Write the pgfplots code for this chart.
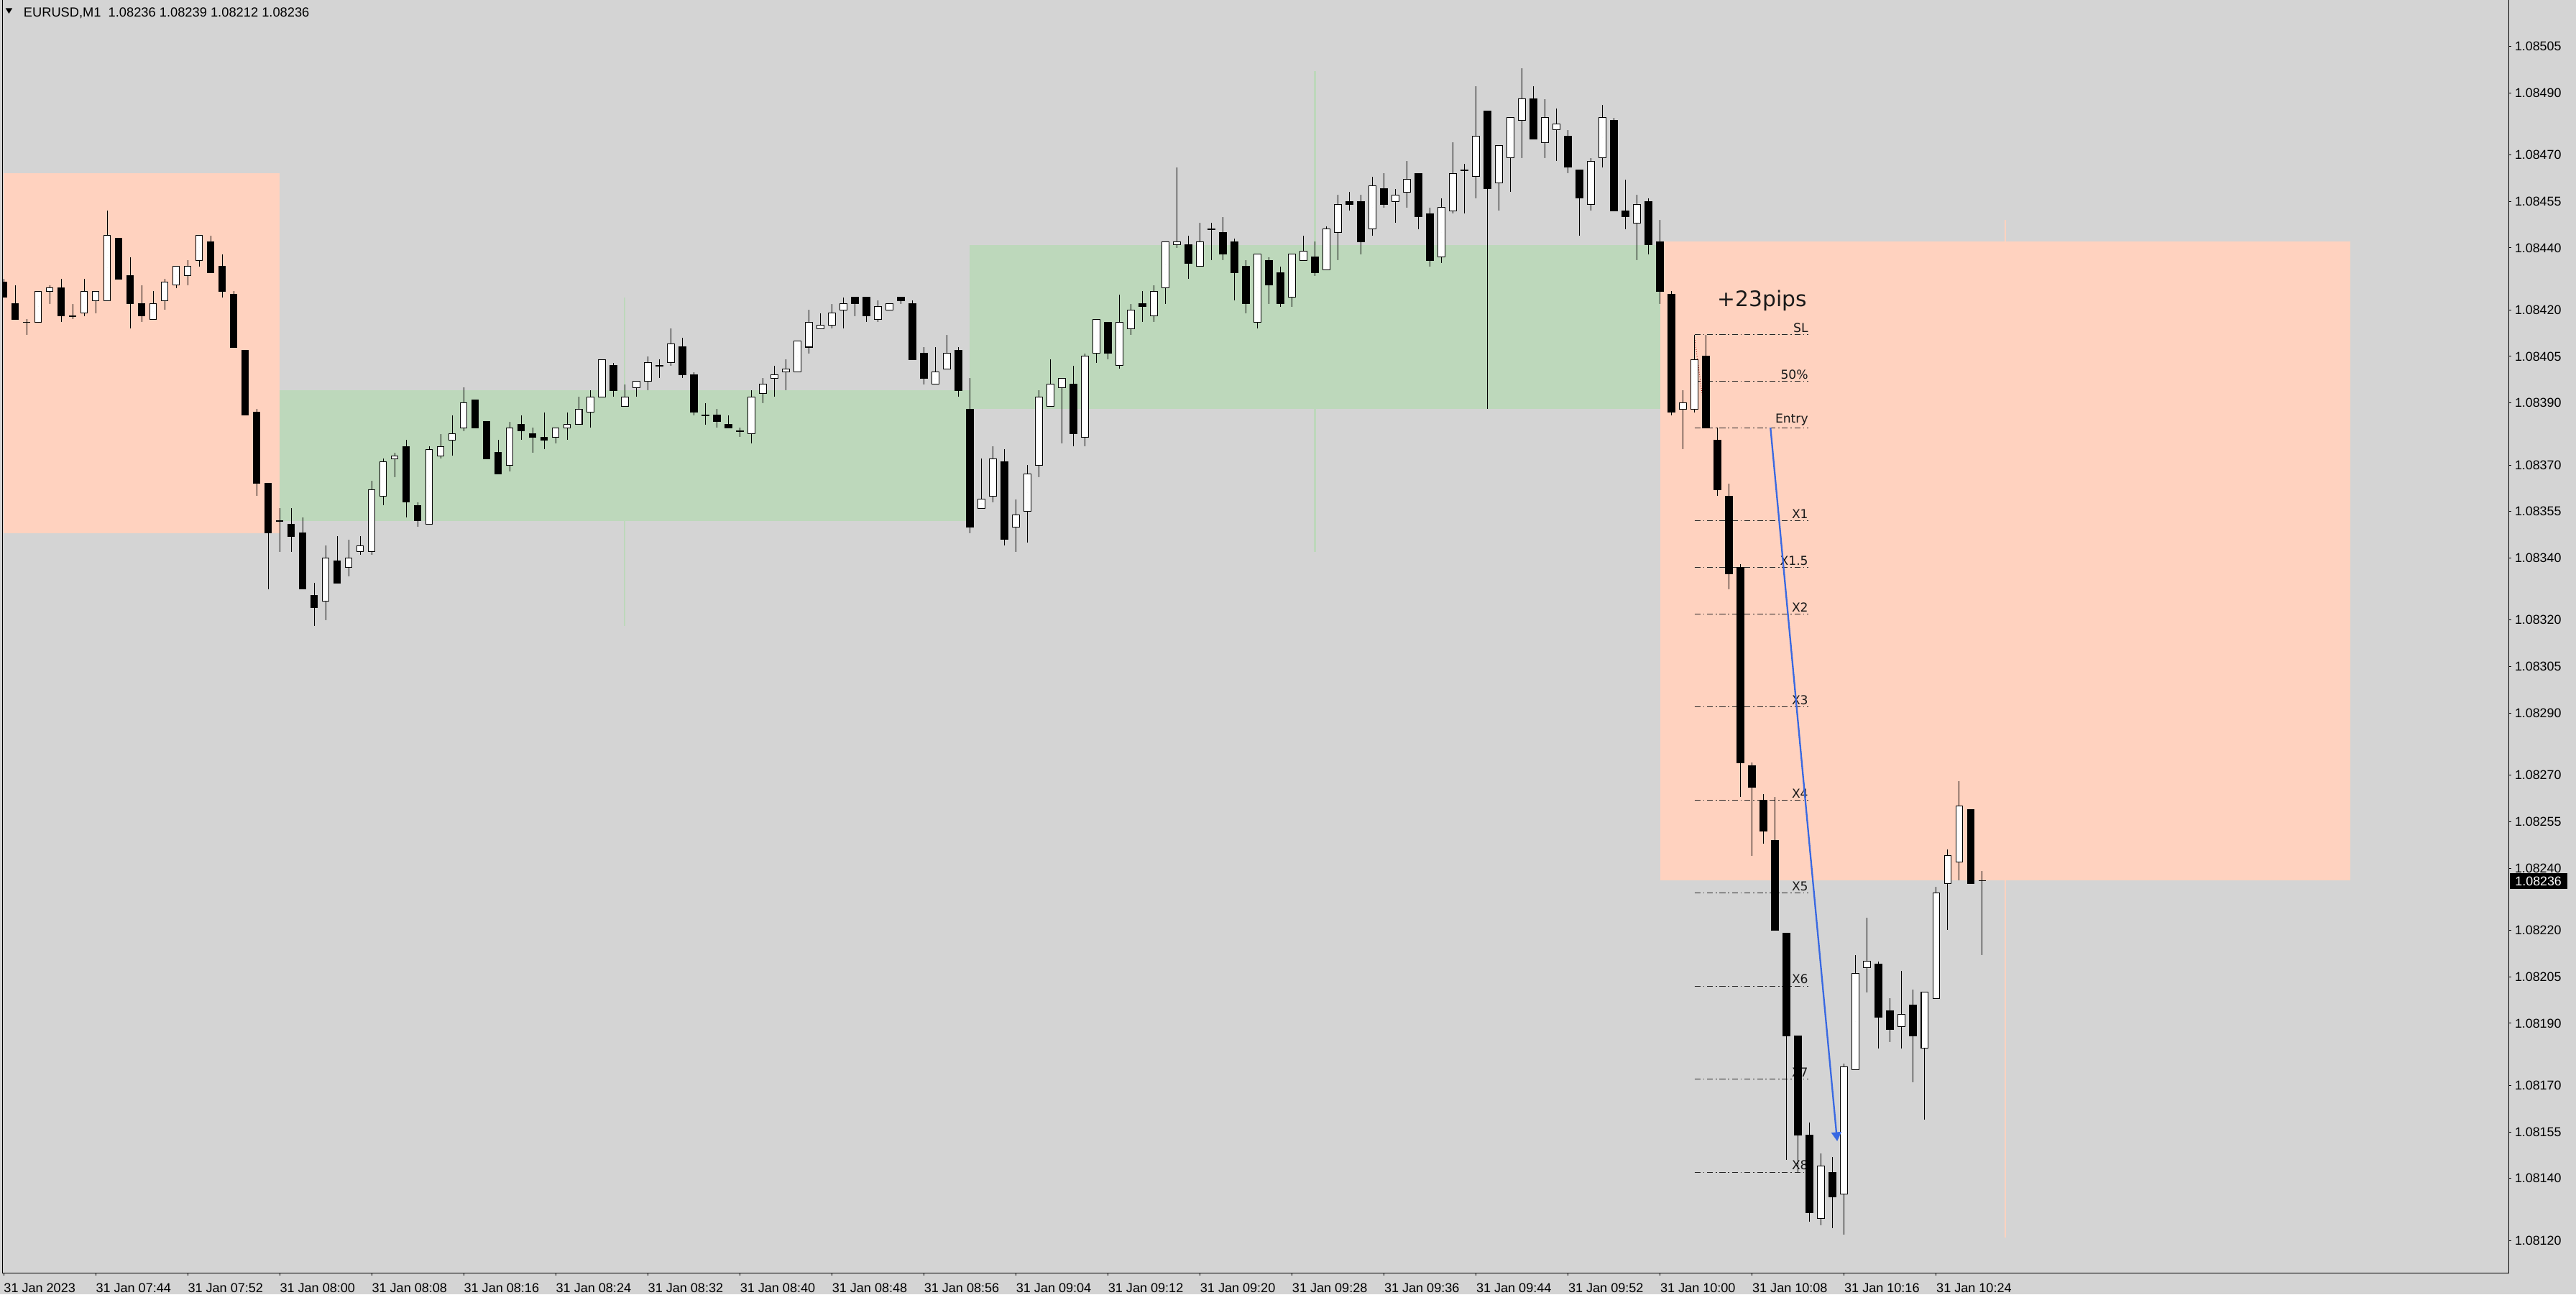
\documentclass[border=0pt]{standalone}
\usepackage{pgfplots}
\pgfplotsset{compat=1.18}
\usepackage{pgfplotstable}
\usetikzlibrary{arrows.meta}
\usepackage{fontspec}
\setmainfont{Liberation Sans}
\newfontfamily\dejavu{DejaVu Sans}

\definecolor{bggray}{RGB}{212,212,212}
\definecolor{salmonbox}{RGB}{255,210,191}
\definecolor{greenbox}{RGB}{189,216,187}
\definecolor{arrowblue}{RGB}{56,104,226}

% EURUSD M1 candles, prices in points: 1.08xxx -> xxx
\pgfplotstableread{
i O H L C
0 429 430 424 424
1 422 428 417 417
2 416 417 412 416
3 416 426 416 426
4 426 428 422 427
5 427 430 416 418
6 418 422 417 418
7 419 430 418 426
8 423 426 419 426
9 423 452 423 444
10 443 443 430 430
11 431 437 414 422
12 422 428 416 418
13 417 426 417 422
14 423 430 420 429
15 428 434 427 434
16 431 436 428 434
17 436 444 434 444
18 442 444 432 432
19 434 438 424 426
20 425 426 408 408
21 407 407 386 386
22 387 388 360 364
23 364 364 330 348
24 352 356 342 352
25 351 356 342 347
26 348 353 330 330
27 328 332 318 324
28 326 344 320 340
29 339 347 332 332
30 337 346 334 340
31 342 347 341 344
32 342 365 341 362
33 360 372 357 371
34 372 374 366 373
35 376 378 353 358
36 357 358 350 352
37 351 376 351 375
38 373 380 372 376
39 378 386 373 380
40 382 395 381 390
41 391 391 382 382
42 384 384 372 372
43 374 378 367 367
44 370 384 368 382
45 383 386 378 381
46 380 382 374 379
47 379 387 375 378
48 379 382 377 382
49 382 387 378 383
50 383 392 383 388
51 387 394 382 392
52 392 404 392 404
53 402 403 392 394
54 389 396 389 392
55 395 397 392 397
56 397 405 394 403
57 402 404 398 402
58 403 414 402 409
59 408 411 398 399
60 399 400 386 387
61 386 390 383 386
62 386 388 382 384
63 383 386 382 382
64 381 382 379 381
65 380 394 377 392
66 393 398 390 396
67 398 402 392 399
68 400 404 394 401
69 400 410 400 410
70 408 420 406 416
71 414 419 414 415
72 415 422 414 419
73 420 424 414 422
74 424 424 418 422
75 424 424 416 418
76 417 423 416 421
77 420 422 420 422
78 424 424 422 423
79 422 423 404 404
80 406 408 396 398
81 396 408 396 400
82 401 412 401 406
83 407 408 392 394
84 388 398 348 350
85 356 372 356 359
86 360 376 358 372
87 371 375 344 346
88 350 359 342 354
89 355 370 345 367
90 370 394 366 392
91 389 404 389 396
92 395 398 377 398
93 396 402 376 380
94 379 406 376 405
95 406 417 403 417
96 416 416 404 406
97 402 425 401 416
98 414 422 412 420
99 422 426 416 421
100 418 428 416 426
101 427 442 422 442
102 441 466 440 442
103 441 444 430 435
104 434 448 434 442
105 446 448 436 446
106 445 450 436 438
107 442 443 423 432
108 434 436 419 422
109 416 438 414 438
110 436 437 422 428
111 432 434 421 422
112 424 438 421 438
113 436 444 436 439
114 437 442 431 432
115 433 447 433 446
116 445 457 436 454
117 455 458 452 454
118 455 457 438 442
119 446 463 444 460
120 459 464 453 454
121 455 459 448 457
122 458 468 453 462
123 464 464 446 450
124 451 453 434 436
125 437 456 435 453
126 452 474 451 464
127 465 467 451 465
128 463 492 456 476
129 484 484 388 459
130 461 473 452 473
131 469 482 458 482
132 481 498 469 488
133 488 492 475 475
134 474 488 469 482
135 478 485 468 480
136 476 478 464 466
137 465 465 444 456
138 454 469 452 468
139 469 486 466 482
140 481 482 452 452
141 452 462 446 450
142 448 457 436 454
143 455 456 438 441
144 442 449 422 426
145 425 426 386 387
146 388 394 375 390
147 388 412 387 404
148 405 412 382 382
149 378 382 360 362
150 360 364 330 335
151 337 338 263 274
152 273 274 244 266
153 262 264 248 252
154 249 263 220 220
155 219 219 146 186
156 186 186 142 154
157 154 158 126 129
158 127 148 125 144
159 142 147 124 134
160 135 177 122 176
161 175 212 175 206
162 208 224 200 210
163 209 210 182 192
164 194 198 184 188
165 189 207 182 193
166 196 201 171 186
167 182 200 159 200
168 198 234 198 232
169 235 246 220 244
170 242 268 236 260
171 259 259 235 235
172 236 239 212 236
}\candles

\begin{document}
\begin{tikzpicture}
\fill[bggray] (0,0) rectangle (1568pt,788pt);
\useasboundingbox (0,0) rectangle (1568pt,788pt);
\begin{axis}[
  at={(1.5pt,12.8pt)}, anchor=south west,
  width=1525.7pt, height=775.2pt, scale only axis,
  xmin=-0.1, xmax=217.8, ymin=109.4, ymax=519.9,
  separate axis lines,
  axis x line*=bottom, axis y line*=right,
  axis line style={black, line width=0.44pt},
  tick align=outside, major tick length=1.4pt,
  tick style={black, line width=0.44pt},
  xtick={0,8,...,168},
  xticklabels={31 Jan 2023,31 Jan 07:44,31 Jan 07:52,31 Jan 08:00,31 Jan 08:08,
    31 Jan 08:16,31 Jan 08:24,31 Jan 08:32,31 Jan 08:40,31 Jan 08:48,31 Jan 08:56,
    31 Jan 09:04,31 Jan 09:12,31 Jan 09:20,31 Jan 09:28,31 Jan 09:36,31 Jan 09:44,
    31 Jan 09:52,31 Jan 10:00,31 Jan 10:08,31 Jan 10:16,31 Jan 10:24},
  xticklabel style={font=\fontsize{7.9}{9}\selectfont, anchor=north west, inner sep=0pt, yshift=-4.4pt},
  ytick={505,490,470,455,440,420,405,390,370,355,340,320,305,290,270,255,240,220,205,190,170,155,140,120},
  yticklabels={1.08505,1.08490,1.08470,1.08455,1.08440,1.08420,1.08405,1.08390,1.08370,1.08355,
    1.08340,1.08320,1.08305,1.08290,1.08270,1.08255,1.08240,1.08220,1.08205,1.08190,1.08170,
    1.08155,1.08140,1.08120},
  yticklabel style={font=\fontsize{7.8}{9}\selectfont, anchor=west, inner sep=0pt, xshift=2pt},
  after end axis/.code={\draw[black, line width=0.44pt] (rel axis cs:0,0) -- (rel axis cs:0,1);},
  candle/.style={only marks, mark=*, mark size=0pt, mark options={draw=none, fill=none},
    error bars/y dir=both, error bars/y explicit, error bars/error mark=none},
]
% hourly boxes
\addplot[fill=salmonbox, draw=none] coordinates {(0,348) (24,348) (24,464) (0,464)};
\addplot[fill=greenbox, draw=none] coordinates {(24,352) (84,352) (84,394) (24,394)};
\addplot[fill=greenbox, draw=none] coordinates {(84,388) (144,388) (144,441) (84,441)};
\addplot[fill=salmonbox, draw=none] coordinates {(144,236) (204,236) (204,442) (144,442)};
% half-hour range lines
\addplot[greenbox, line width=0.9pt] coordinates {(54,318) (54,424)};
\addplot[greenbox, line width=0.9pt] coordinates {(114,342) (114,497)};
\addplot[salmonbox, line width=0.9pt] coordinates {(174,121) (174,449)};

% trade levels
\pgfplotsset{lvl/.style={black!85, line width=0.44pt, dash pattern=on 3.6pt off 1.6pt on 0.8pt off 1.6pt}}
\addplot[lvl] coordinates {(147,412) (156.9,412)};
\addplot[lvl] coordinates {(147,397) (156.9,397)};
\addplot[lvl] coordinates {(147,382) (156.9,382)};
\addplot[lvl] coordinates {(147,352) (156.9,352)};
\addplot[lvl] coordinates {(147,337) (156.9,337)};
\addplot[lvl] coordinates {(147,322) (156.9,322)};
\addplot[lvl] coordinates {(147,292) (156.9,292)};
\addplot[lvl] coordinates {(147,262) (156.9,262)};
\addplot[lvl] coordinates {(147,232) (156.9,232)};
\addplot[lvl] coordinates {(147,202) (156.9,202)};
\addplot[lvl] coordinates {(147,172) (156.9,172)};
\addplot[lvl] coordinates {(147,142) (156.9,142)};
\addplot[red!60!black, line width=0.4pt, densely dotted] coordinates {(147,411) (148.05,382)};
\begin{scope}[every node/.style={anchor=south east, inner sep=0pt, yshift=1.2pt,
    font=\dejavu\fontsize{7.5}{8}\selectfont, text=black!90}]
\node at (156.9,412) {SL};
\node at (156.9,397) {50\%};
\node at (156.9,382) {Entry};
\node at (156.9,352) {X1};
\node at (156.9,337) {X1.5};
\node at (156.9,322) {X2};
\node at (156.9,292) {X3};
\node at (156.9,262) {X4};
\node at (156.9,232) {X5};
\node at (156.9,202) {X6};
\node at (156.9,172) {X7};
\node at (156.9,142) {X8};
\end{scope}
\node[anchor=east, inner sep=0pt, font=\dejavu\fontsize{13}{15}\selectfont, text=black!90] at (156.8,423) {+23pips};

% candles: wicks, then bodies
\addplot[candle, error bars/error bar style={black, line width=0.44pt}]
  table[x=i, y expr={0.5*(\thisrow{H}+\thisrow{L})}, y error expr={0.5*(\thisrow{H}-\thisrow{L})}] {\candles};
% bearish bodies
\addplot[candle, restrict expr to domain={\thisrow{O}-\thisrow{C}}{0.5:1000},
  error bars/error bar style={black, line width=4.6pt}]
  table[x=i, y expr={0.5*(\thisrow{O}+\thisrow{C})}, y error expr={0.5*abs(\thisrow{O}-\thisrow{C})+0.117}] {\candles};
% bullish bodies: outline, then white fill
\addplot[candle, restrict expr to domain={\thisrow{C}-\thisrow{O}}{-0.5:1000},
  error bars/error bar style={black, line width=4.6pt}]
  table[x=i, y expr={0.5*(\thisrow{O}+\thisrow{C})}, y error expr={0.5*abs(\thisrow{O}-\thisrow{C})+0.117}] {\candles};
\addplot[candle, restrict expr to domain={\thisrow{C}-\thisrow{O}}{-0.5:1000},
  error bars/error bar style={white, line width=3.72pt}]
  table[x=i, y expr={0.5*(\thisrow{O}+\thisrow{C})}, y error expr={max(0.5*abs(\thisrow{O}-\thisrow{C})-0.117,0)}] {\candles};

% move arrow
\addplot[arrowblue, line width=1pt, -{Triangle[width=6pt,length=5.5pt]}] coordinates {(153.6,382) (159.4,152)};
\end{axis}
% header and current price tag
\fill[black] (3.4pt,783pt) -- (7.5pt,783pt) -- (5.45pt,779.7pt) -- cycle;
\node[anchor=base west, inner sep=0pt, font=\fontsize{8}{9}\selectfont] at (14.2pt,777.8pt)
  {EURUSD,M1\ \ 1.08236 1.08239 1.08212 1.08236};
\fill[black] (1527.7pt,246.8pt) rectangle (1562.7pt,256.4pt);
\node[anchor=west, inner sep=0pt, text=white, font=\fontsize{7.8}{9}\selectfont] at (1530.8pt,251.4pt) {1.08236};
\end{tikzpicture}
\end{document}
